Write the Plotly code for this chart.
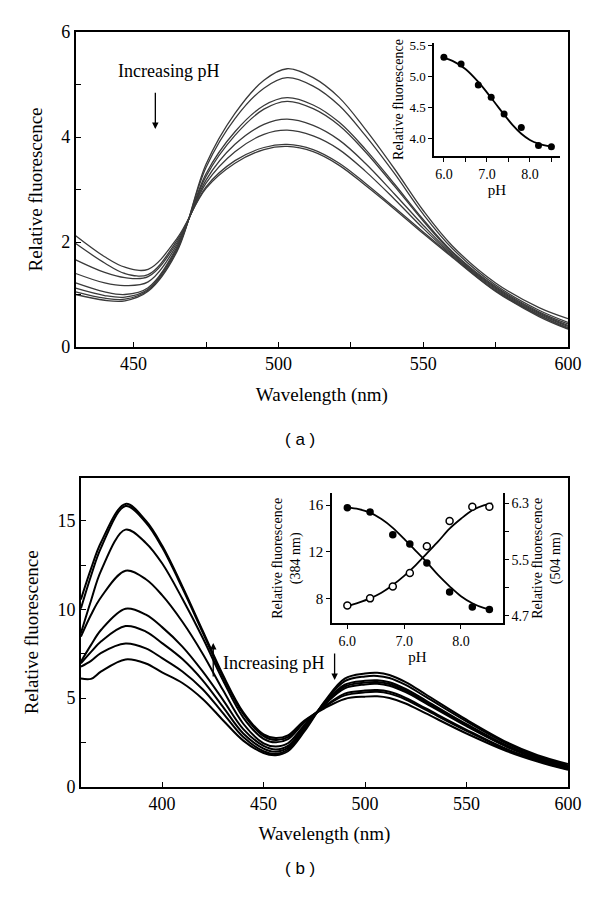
import plotly.graph_objects as go

# ---------------- Panel (a) data ----------------
wl_a = [430, 440, 447, 455, 465, 475, 485, 495, 503, 512, 521, 530, 540, 550, 560, 575, 590, 600]
spec_a = [
    [1.00, 0.89, 0.88, 1.06, 1.82, 3.48, 4.45, 5.08, 5.30, 5.13, 4.75, 4.15, 3.40, 2.60, 1.93, 1.22, 0.75, 0.54],
    [1.05, 0.93, 0.91, 1.08, 1.85, 3.42, 4.35, 4.93, 5.13, 4.97, 4.60, 4.03, 3.31, 2.53, 1.88, 1.18, 0.70, 0.47],
    [1.12, 0.98, 0.95, 1.10, 1.88, 3.30, 4.10, 4.60, 4.75, 4.61, 4.28, 3.77, 3.11, 2.43, 1.82, 1.15, 0.67, 0.44],
    [1.22, 1.05, 1.00, 1.13, 1.91, 3.25, 4.03, 4.53, 4.68, 4.54, 4.22, 3.72, 3.07, 2.40, 1.80, 1.13, 0.65, 0.41],
    [1.40, 1.22, 1.17, 1.24, 1.95, 3.18, 3.86, 4.24, 4.34, 4.22, 3.94, 3.50, 2.92, 2.32, 1.77, 1.11, 0.63, 0.39],
    [1.66, 1.42, 1.32, 1.34, 1.99, 3.12, 3.72, 4.05, 4.13, 4.02, 3.76, 3.35, 2.82, 2.26, 1.75, 1.09, 0.61, 0.37],
    [1.97, 1.60, 1.40, 1.38, 2.03, 3.05, 3.55, 3.80, 3.86, 3.76, 3.50, 3.12, 2.66, 2.19, 1.73, 1.07, 0.60, 0.35],
    [2.12, 1.72, 1.52, 1.48, 2.07, 3.02, 3.50, 3.76, 3.82, 3.72, 3.46, 3.08, 2.63, 2.16, 1.71, 1.06, 0.58, 0.34],
]
ph_a = [6.0, 6.4, 6.8, 7.1, 7.4, 7.8, 8.2, 8.5]
fl_a = [5.31, 5.20, 4.86, 4.66, 4.39, 4.17, 3.88, 3.86]
fit_ph_a = [6.0, 6.2, 6.5, 6.8, 7.0, 7.2, 7.4, 7.6, 7.8, 8.0, 8.2, 8.5]
fit_fl_a = [5.30, 5.25, 5.12, 4.91, 4.74, 4.56, 4.38, 4.21, 4.07, 3.97, 3.91, 3.86]

# ---------------- Panel (b) data ----------------
wl_b = [360, 365, 370, 382, 392, 400, 410, 420, 430, 440, 450, 456, 462, 470, 480,
        490, 500, 506, 512, 520, 530, 550, 570, 585, 600]
spec_b = [
    [10.56, 12.3, 13.8, 15.95, 15.0, 13.6, 11.3, 8.8, 6.3, 4.2, 2.95, 2.75, 2.9, 3.72, 4.42,
     4.95, 5.08, 5.10, 5.00, 4.69, 4.13, 3.00, 2.00, 1.42, 0.95],
    [10.05, 11.9, 13.5, 15.83, 14.9, 13.5, 11.2, 8.7, 6.2, 4.1, 2.85, 2.63, 2.8, 3.65, 4.50,
     5.15, 5.32, 5.35, 5.25, 4.92, 4.33, 3.15, 2.07, 1.47, 0.98],
    [8.65, 10.5, 12.2, 14.50, 13.75, 12.6, 10.6, 8.4, 6.0, 3.9, 2.70, 2.50, 2.68, 3.60, 4.52,
     5.25, 5.42, 5.45, 5.35, 5.01, 4.41, 3.21, 2.11, 1.50, 1.00],
    [8.46, 9.7, 10.7, 12.18, 11.7, 10.8, 9.3, 7.5, 5.45, 3.55, 2.45, 2.27, 2.45, 3.45, 4.62,
     5.55, 5.77, 5.80, 5.69, 5.33, 4.70, 3.41, 2.24, 1.57, 1.05],
    [7.05, 8.0, 8.85, 10.04, 9.7, 9.0, 7.9, 6.5, 4.9, 3.25, 2.30, 2.10, 2.30, 3.38, 4.65,
     5.65, 5.87, 5.90, 5.79, 5.42, 4.78, 3.47, 2.28, 1.61, 1.10],
    [6.95, 7.6, 8.2, 9.06, 8.75, 8.1, 7.2, 6.0, 4.5, 3.0, 2.15, 1.97, 2.20, 3.30, 4.68,
     5.75, 5.97, 6.00, 5.89, 5.51, 4.86, 3.53, 2.32, 1.65, 1.15],
    [6.77, 7.1, 7.55, 8.08, 7.8, 7.25, 6.5, 5.5, 4.15, 2.8, 2.00, 1.85, 2.10, 3.20, 4.75,
     5.95, 6.22, 6.25, 6.13, 5.74, 5.06, 3.68, 2.42, 1.72, 1.20],
    [6.10, 6.08, 6.5, 7.18, 6.95, 6.45, 5.85, 4.95, 3.75, 2.6, 1.90, 1.78, 2.00, 3.10, 4.80,
     6.10, 6.38, 6.42, 6.30, 5.90, 5.20, 3.78, 2.50, 1.78, 1.28],
]
ph_b = [6.0, 6.4, 6.8, 7.1, 7.4, 7.8, 8.2, 8.5]
fl_384 = [15.77, 15.40, 13.46, 12.66, 11.04, 8.56, 7.28, 7.06]
fl_504 = [4.85, 4.95, 5.12, 5.31, 5.69, 6.05, 6.25, 6.25]
fit_ph_b = [6.0, 6.2, 6.4, 6.6, 6.8, 7.0, 7.2, 7.4, 7.6, 7.8, 8.0, 8.2, 8.4, 8.55]
fit_384 = [15.8, 15.65, 15.35, 14.8, 14.05, 13.1, 12.1, 11.1, 10.0, 9.05, 8.2, 7.6, 7.2, 7.05]
fit_504 = [4.84, 4.89, 4.95, 5.03, 5.14, 5.27, 5.42, 5.59, 5.76, 5.94, 6.08, 6.2, 6.27, 6.3]

W, H = 600, 898
def px_x(p): return p / W
def px_y(p): return 1 - p / H

SERIF = "Liberation Serif, Times New Roman, DejaVu Serif, serif"
SANS = "Liberation Sans, Arial, sans-serif"
fig = go.Figure()

for ys in spec_a:
    fig.add_trace(go.Scatter(x=wl_a, y=ys, mode="lines", xaxis="x", yaxis="y",
                             line=dict(color="#3a3a3a", width=1.3, shape="spline", smoothing=1.0),
                             showlegend=False, hoverinfo="skip"))
fig.add_trace(go.Scatter(x=fit_ph_a, y=fit_fl_a, mode="lines", xaxis="x2", yaxis="y2",
                         line=dict(color="black", width=1.8, shape="spline"), showlegend=False))
fig.add_trace(go.Scatter(x=ph_a, y=fl_a, mode="markers", xaxis="x2", yaxis="y2",
                         marker=dict(color="black", size=7), showlegend=False))

for ys in spec_b:
    fig.add_trace(go.Scatter(x=wl_b, y=ys, mode="lines", xaxis="x3", yaxis="y3",
                             line=dict(color="black", width=2.0, shape="spline", smoothing=1.0),
                             showlegend=False, hoverinfo="skip"))
fig.add_trace(go.Scatter(x=fit_ph_b, y=fit_384, mode="lines", xaxis="x4", yaxis="y4",
                         line=dict(color="black", width=1.8, shape="spline"), showlegend=False))
fig.add_trace(go.Scatter(x=ph_b, y=fl_384, mode="markers", xaxis="x4", yaxis="y4",
                         marker=dict(color="black", size=7.5), showlegend=False))
fig.add_trace(go.Scatter(x=fit_ph_b, y=fit_504, mode="lines", xaxis="x4", yaxis="y5",
                         line=dict(color="black", width=1.8, shape="spline"), showlegend=False))
fig.add_trace(go.Scatter(x=ph_b, y=fl_504, mode="markers", xaxis="x4", yaxis="y5",
                         marker=dict(color="white", size=7, line=dict(color="black", width=1.5)),
                         showlegend=False))

main_ax = dict(showline=True, linecolor="black", linewidth=1.6, mirror=True, showgrid=False,
               zeroline=False, ticks="inside", ticklen=5, tickwidth=1.2, tickcolor="black",
               automargin=False,
               tickfont=dict(family=SERIF, size=18, color="black"))
inset_ax = dict(showline=True, linecolor="black", linewidth=1.5, mirror=False, showgrid=False,
                zeroline=False, ticks="outside", ticklen=4, tickwidth=1.2, tickcolor="black",
                automargin=False,
                tickfont=dict(family=SERIF, size=13, color="black"))

fig.update_layout(
    width=W, height=H, margin=dict(l=0, r=0, t=0, b=0, pad=0, autoexpand=False),
    paper_bgcolor="white", plot_bgcolor="rgba(0,0,0,0)",
    font=dict(family=SERIF, size=18, color="black"),
    xaxis=dict(main_ax, domain=[px_x(75.7), px_x(568)], range=[430, 600], anchor="y",
               tickvals=[450, 500, 550, 600],
               minor=dict(ticks="inside", tickvals=[475, 525, 575], ticklen=5, tickcolor="black"),
               title=dict(text="Wavelength (nm)", font=dict(size=19), standoff=14)),
    yaxis=dict(main_ax, domain=[px_y(347), px_y(32)], range=[0, 6], anchor="x",
               tickvals=[0, 2, 4, 6],
               minor=dict(ticks="inside", tickvals=[1, 3, 5], ticklen=5, tickcolor="black"),
               title=dict(text="Relative fluorescence", font=dict(size=19), standoff=14)),
    xaxis2=dict(inset_ax, domain=[px_x(434), px_x(560)], range=[5.77, 8.70], anchor="y2",
                tickvals=[6.0, 6.5, 7.0, 7.5, 8.0, 8.5], ticktext=["6.0", "", "7.0", "", "8.0", ""],
                tickfont=dict(family=SERIF, size=14, color="black"),
                title=dict(text="pH", font=dict(size=15), standoff=2)),
    yaxis2=dict(inset_ax, domain=[px_y(156), px_y(43)], range=[3.71, 5.54], anchor="x2",
                tickvals=[4.0, 4.5, 5.0, 5.5], ticktext=["4.0", "4.5", "5.0", "5.5"],
                title=dict(text="Relative fluorescence", font=dict(size=14), standoff=3)),
    xaxis3=dict(main_ax, domain=[px_x(80.9), px_x(568)], range=[360, 600], anchor="y3",
                tickvals=[400, 450, 500, 550, 600],
                title=dict(text="Wavelength (nm)", font=dict(size=19), standoff=14)),
    yaxis3=dict(main_ax, domain=[px_y(786.7), px_y(478)], range=[0, 17.41], anchor="x3",
                tickvals=[0, 5, 10, 15],
                minor=dict(ticks="inside", tickvals=[2.5, 7.5, 12.5], ticklen=5, tickcolor="black"),
                title=dict(text="Relative fluorescence", font=dict(size=19), standoff=14)),
    xaxis4=dict(inset_ax, domain=[px_x(332), px_x(503)], range=[5.73, 8.74], anchor="y4",
                tickvals=[6.0, 7.0, 8.0], ticktext=["6.0", "7.0", "8.0"],
                tickfont=dict(family=SERIF, size=14, color="black"),
                title=dict(text="pH", font=dict(size=15), standoff=2)),
    yaxis4=dict(inset_ax, domain=[px_y(623.3), px_y(493.3)], range=[5.89, 17.0], anchor="x4",
                tickvals=[8, 12, 16], tickfont=dict(family=SERIF, size=15, color="black"),
                title=dict(text="Relative fluorescence<br>(384 nm)", font=dict(size=14), standoff=4)),
    yaxis5=dict(inset_ax, overlaying="y4", side="right", range=[4.596, 6.442], anchor="x4",
                tickvals=[4.7, 5.5, 6.3], ticktext=["4.7", "5.5", "6.3"],
                minor=dict(ticks="outside", tickvals=[5.1, 5.9], ticklen=4, tickcolor="black"),
                tickfont=dict(family=SERIF, size=14, color="black"),
                title=dict(text="Relative fluorescence<br>(504 nm)", font=dict(size=14), standoff=4)),
)

ann = [
    dict(x=462, y=5.25, xref="x", yref="y", text="Increasing pH", showarrow=False,
         font=dict(family=SERIF, size=18)),
    dict(x=457.5, y=4.15, ax=457.5, ay=4.87, xref="x", yref="y", axref="x", ayref="y",
         text="", showarrow=True, arrowhead=2, arrowsize=1, arrowwidth=1.3, arrowcolor="black"),
    dict(x=455.1, y=6.98, xref="x3", yref="y3", text="Increasing pH", showarrow=False,
         font=dict(family=SERIF, size=18)),
    dict(x=425.2, y=8.1, ax=425.2, ay=6.13, xref="x3", yref="y3", axref="x3", ayref="y3",
         text="", showarrow=True, arrowhead=2, arrowsize=1, arrowwidth=1.3, arrowcolor="black"),
    dict(x=485.0, y=6.02, ax=485.0, ay=7.6, xref="x3", yref="y3", axref="x3", ayref="y3",
         text="", showarrow=True, arrowhead=2, arrowsize=1, arrowwidth=1.3, arrowcolor="black"),
    dict(x=0.5, y=px_y(440), xref="paper", yref="paper", text="( a )", showarrow=False,
         font=dict(family=SANS, size=17)),
    dict(x=0.5, y=px_y(880), xref="paper", yref="paper", text="( b )", showarrow=False,
         font=dict(family=SANS, size=17)),
]
fig.update_layout(annotations=ann)

fig.write_html("out.html", config={"displayModeBar": False},
               post_script="document.body.style.margin='0';document.body.style.overflow='hidden';")
